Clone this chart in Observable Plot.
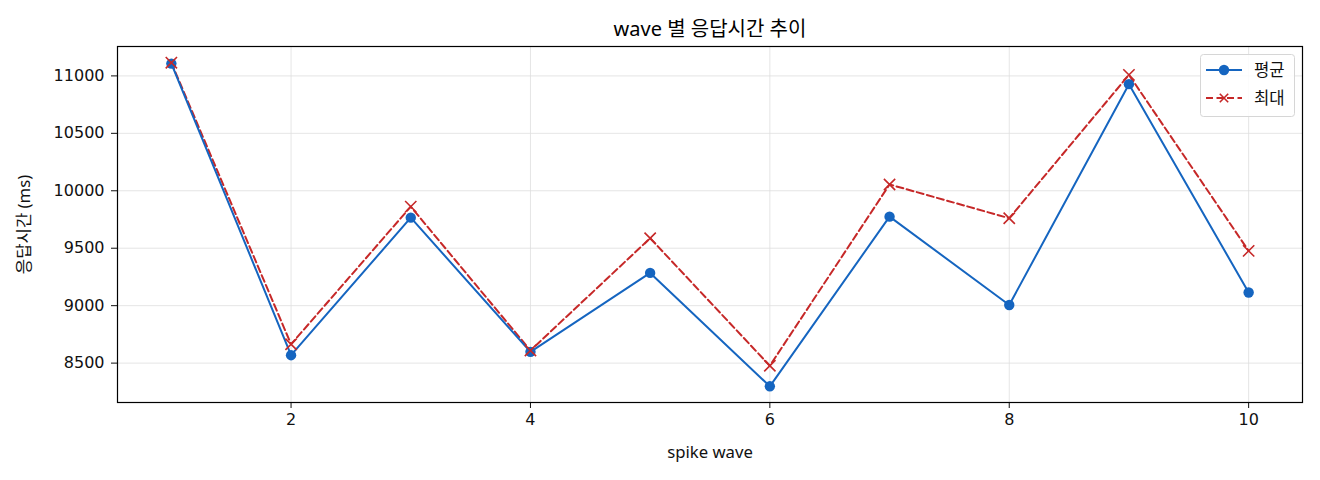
<!DOCTYPE html>
<html>
<head>
<meta charset="utf-8">
<script src="https://cdn.jsdelivr.net/npm/d3@7"></script>
<script src="https://cdn.jsdelivr.net/npm/@observablehq/plot@0.6"></script>
<style>
  html, body { margin: 0; padding: 0; background: #fff; }
  #wrap { position: relative; width: 1320px; height: 480px; }
  #legend { position: absolute; left: 1200px; top: 54px; }
</style>
</head>
<body>
<div id="wrap"></div>
<script>
const waves = [1, 2, 3, 4, 5, 6, 7, 8, 9, 10];
const avgMs = [11107, 8569, 9766, 8598, 9285, 8298, 9775, 9006, 10928, 9115];
const maxMs = [11115, 8664, 9862, 8610, 9587, 8477, 10055, 9761, 11009, 9477];
const seriesNames = ["평균", "최대"];
const yTicks = [8500, 9000, 9500, 10000, 10500, 11000];
const xTicks = [2, 4, 6, 8, 10];
const titleText = "wave 별 응답시간 추이";
const xLabel = "spike wave";
const yLabel = "응답시간 (ms)";

const BLUE = "#1565c0", RED = "#c62828";
const FONT = "'Noto Sans', 'Noto Sans CJK KR', sans-serif";
const TICKFONT = "'DejaVu Sans', 'Noto Sans', sans-serif";

const avgData = waves.map((w, i) => ({w, v: avgMs[i]}));
const maxData = waves.map((w, i) => ({w, v: maxMs[i]}));

const allV = avgMs.concat(maxMs);
const lo = Math.min(...allV), hi = Math.max(...allV);
const pad = (hi - lo) * 0.05;
const xpad = (waves[waves.length - 1] - waves[0]) * 0.05;

const chart = Plot.plot({
  width: 1320,
  height: 480,
  marginLeft: 117,
  marginRight: 18,
  marginTop: 46,
  marginBottom: 78,
  style: {fontFamily: FONT, fontSize: "16.7px", color: "#111", background: "#fff"},
  x: {domain: [waves[0] - xpad, waves[waves.length - 1] + xpad]},
  y: {domain: [lo - pad, hi + pad]},
  marks: [
    Plot.gridX(xTicks, {stroke: "#dedede", strokeOpacity: 1, strokeWidth: 0.8}),
    Plot.gridY(yTicks, {stroke: "#dedede", strokeOpacity: 1, strokeWidth: 0.8}),
    Plot.axisX(xTicks, {tickSize: 6, tickPadding: 5, tickFormat: d => String(d), fontFamily: TICKFONT, fontSize: 16, label: null}),
    Plot.axisX({ticks: [], tickSize: 0, label: xLabel, labelAnchor: "center", labelArrow: "none", labelOffset: 55, fontSize: 16.7}),
    Plot.axisY(yTicks, {tickSize: 6, tickPadding: 7, tickFormat: d => String(d), fontFamily: TICKFONT, fontSize: 16, label: null}),
    Plot.axisY({ticks: [], tickSize: 0, label: yLabel, labelAnchor: "center", labelArrow: "none", labelOffset: 99, fontSize: 16.7}),
    Plot.line(maxData, {x: "w", y: "v", stroke: RED, strokeWidth: 2, strokeDasharray: "7,3.5"}),
    Plot.line(avgData, {x: "w", y: "v", stroke: BLUE, strokeWidth: 2}),
    Plot.dot(avgData, {x: "w", y: "v", r: 5.2, fill: BLUE, stroke: "none"}),
    Plot.dot(maxData, {x: "w", y: "v", symbol: "times", r: 5.2, stroke: RED, strokeWidth: 1.6, fill: "none"}),
    Plot.frame({stroke: "#000", strokeWidth: 1.2}),
    Plot.text([titleText], {frameAnchor: "top", lineAnchor: "middle", dy: -17, fontSize: 20, fill: "#000"})
  ]
});
document.getElementById("wrap").appendChild(chart);

// legend
const lg = d3.select("#wrap").append("svg").attr("id", "legend")
  .attr("width", 96).attr("height", 64);
lg.append("rect").attr("x", 0.5).attr("y", 0.5).attr("width", 94).attr("height", 62)
  .attr("rx", 3).attr("fill", "#fff").attr("fill-opacity", 0.85).attr("stroke", "#d6d6d6");
const rows = [
  {name: seriesNames[0], color: BLUE, dash: null, sym: "dot"},
  {name: seriesNames[1], color: RED, dash: "7,3.5", sym: "x"}
];
rows.forEach((r, i) => {
  const y = 16 + i * 28;
  lg.append("line").attr("x1", 6).attr("x2", 42).attr("y1", y).attr("y2", y)
    .attr("stroke", r.color).attr("stroke-width", 2).attr("stroke-dasharray", r.dash);
  if (r.sym === "dot") {
    lg.append("circle").attr("cx", 24).attr("cy", y).attr("r", 5.2).attr("fill", r.color);
  } else {
    lg.append("path").attr("d", `M${24-4.2},${y-4.2}L${24+4.2},${y+4.2}M${24-4.2},${y+4.2}L${24+4.2},${y-4.2}`)
      .attr("stroke", r.color).attr("stroke-width", 1.6);
  }
  lg.append("text").attr("x", 54).attr("y", y).attr("dy", "0.35em")
    .attr("font-family", FONT).attr("font-size", 16.7).attr("fill", "#111").text(r.name);
});
</script>
</body>
</html>
